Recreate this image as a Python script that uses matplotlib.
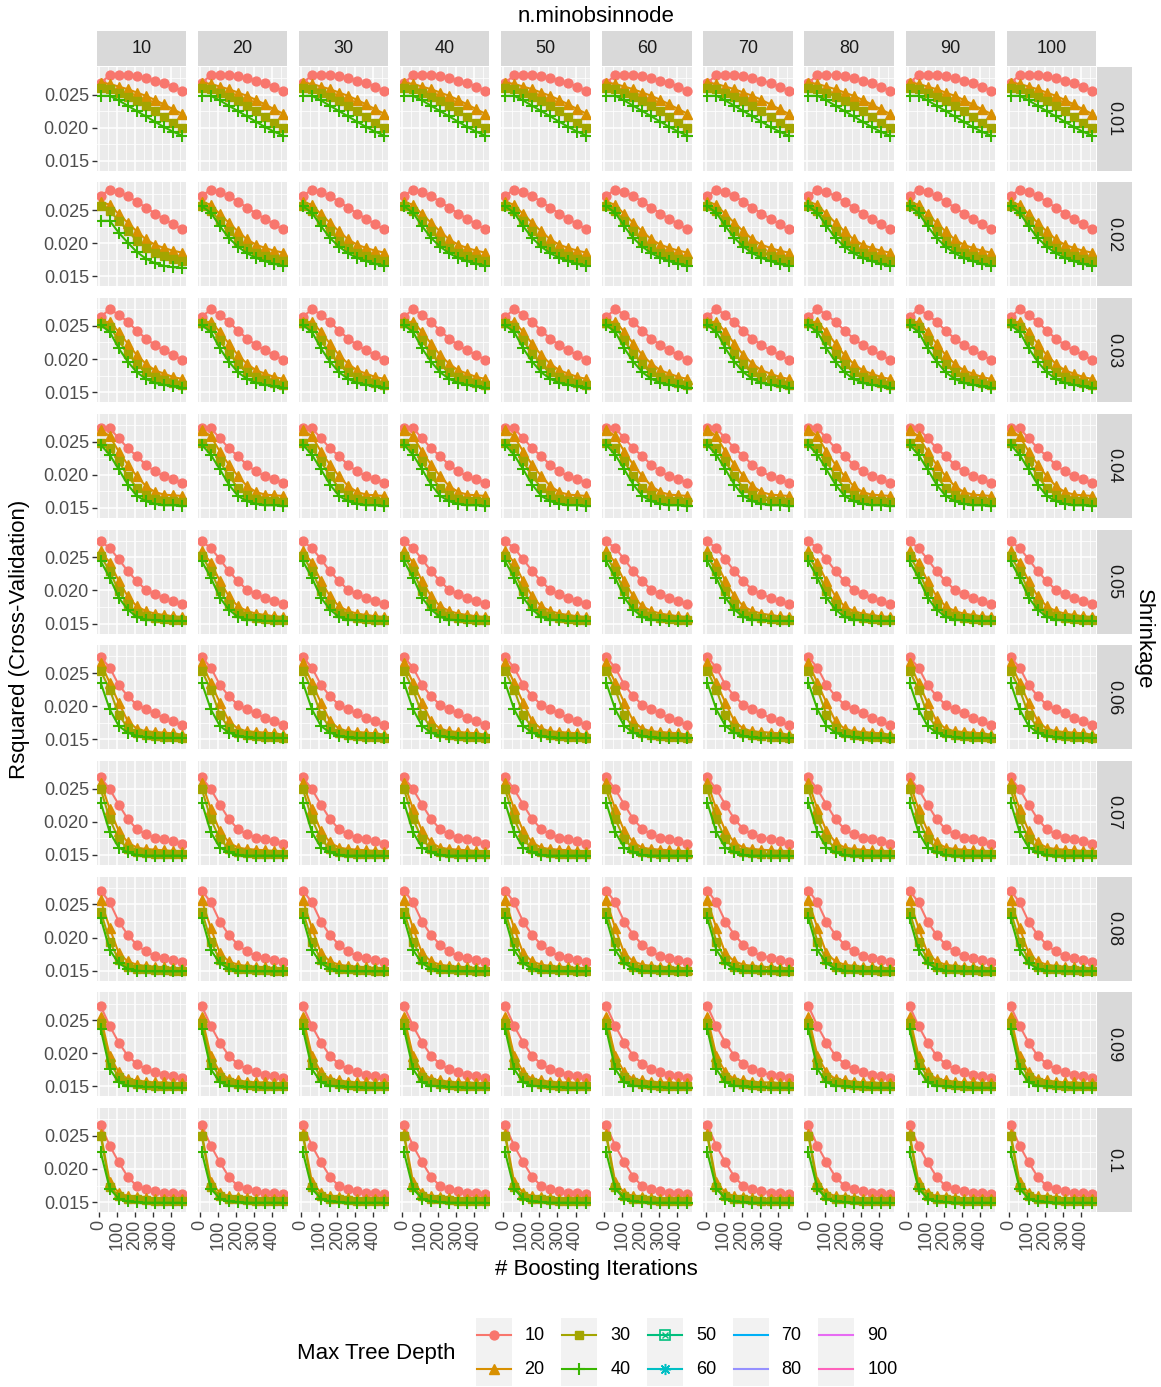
import matplotlib
matplotlib.use("Agg")
import matplotlib.pyplot as plt
from matplotlib.patches import Rectangle
from matplotlib.ticker import FormatStrFormatter

plt.rcParams['font.family'] = ['Liberation Sans', 'DejaVu Sans']

# ---- tuning grid -------------------------------------------------------
shrinkage = ["0.01", "0.02", "0.03", "0.04", "0.05", "0.06", "0.07", "0.08", "0.09", "0.1"]
n_minobsinnode = [10, 20, 30, 40, 50, 60, 70, 80, 90, 100]
max_depth = [10, 20, 30, 40, 50, 60, 70, 80, 90, 100]
boosting_iters = [10, 60, 110, 160, 210, 260, 310, 360, 410, 460]

# Cross-validated R^2, one list per shrinkage value (rows), per tree depth
rsq_depth10 = [
    [0.0268, 0.0279, 0.0280, 0.0280, 0.0278, 0.0275, 0.0271, 0.0267, 0.0262, 0.0256],
    [0.0272, 0.0281, 0.0278, 0.0271, 0.0263, 0.0254, 0.0245, 0.0237, 0.0229, 0.0221],
    [0.0264, 0.0275, 0.0267, 0.0256, 0.0243, 0.0231, 0.0221, 0.0213, 0.0206, 0.0199],
    [0.0270, 0.0270, 0.0255, 0.0240, 0.0228, 0.0215, 0.0205, 0.0198, 0.0193, 0.0188],
    [0.0274, 0.0264, 0.0247, 0.0229, 0.0214, 0.0201, 0.0194, 0.0189, 0.0184, 0.0179],
    [0.0274, 0.0258, 0.0232, 0.0215, 0.0202, 0.0195, 0.0189, 0.0182, 0.0177, 0.0171],
    [0.0267, 0.0249, 0.0226, 0.0204, 0.0189, 0.0181, 0.0176, 0.0174, 0.0171, 0.0166],
    [0.0271, 0.0253, 0.0224, 0.0204, 0.0189, 0.0179, 0.0172, 0.0169, 0.0166, 0.0163],
    [0.0271, 0.0241, 0.0216, 0.0196, 0.0184, 0.0176, 0.0171, 0.0167, 0.0165, 0.0162],
    [0.0266, 0.0235, 0.0210, 0.0188, 0.0174, 0.0169, 0.0166, 0.0164, 0.0163, 0.0162],
]
rsq_depth20 = [
    [0.0268, 0.0266, 0.0262, 0.0258, 0.0253, 0.0248, 0.0242, 0.0235, 0.0228, 0.0221],
    [0.0263, 0.0258, 0.0244, 0.0231, 0.0218, 0.0206, 0.0198, 0.0193, 0.0189, 0.0186],
    [0.0256, 0.0256, 0.0241, 0.0223, 0.0206, 0.0193, 0.0183, 0.0178, 0.0173, 0.0170],
    [0.0268, 0.0258, 0.0235, 0.0215, 0.0198, 0.0183, 0.0174, 0.0170, 0.0169, 0.0168],
    [0.0259, 0.0242, 0.0214, 0.0191, 0.0176, 0.0169, 0.0165, 0.0163, 0.0161, 0.0160],
    [0.0265, 0.0235, 0.0205, 0.0177, 0.0166, 0.0162, 0.0161, 0.0160, 0.0159, 0.0157],
    [0.0259, 0.0219, 0.0186, 0.0169, 0.0161, 0.0159, 0.0158, 0.0157, 0.0156, 0.0155],
    [0.0256, 0.0214, 0.0176, 0.0164, 0.0159, 0.0157, 0.0156, 0.0155, 0.0154, 0.0153],
    [0.0254, 0.0196, 0.0171, 0.0161, 0.0159, 0.0157, 0.0156, 0.0156, 0.0155, 0.0155],
    [0.0253, 0.0180, 0.0164, 0.0159, 0.0157, 0.0156, 0.0155, 0.0155, 0.0154, 0.0154],
]
rsq_depth30 = [
    [0.0260, 0.0259, 0.0253, 0.0247, 0.0240, 0.0233, 0.0225, 0.0216, 0.0207, 0.0199],
    [0.0257, 0.0249, 0.0234, 0.0219, 0.0204, 0.0193, 0.0186, 0.0181, 0.0177, 0.0174],
    [0.0254, 0.0249, 0.0228, 0.0208, 0.0193, 0.0180, 0.0173, 0.0168, 0.0164, 0.0161],
    [0.0248, 0.0240, 0.0220, 0.0198, 0.0180, 0.0170, 0.0164, 0.0161, 0.0160, 0.0159],
    [0.0252, 0.0229, 0.0199, 0.0179, 0.0166, 0.0161, 0.0159, 0.0157, 0.0156, 0.0156],
    [0.0253, 0.0225, 0.0187, 0.0167, 0.0160, 0.0156, 0.0155, 0.0154, 0.0153, 0.0152],
    [0.0249, 0.0204, 0.0174, 0.0159, 0.0155, 0.0153, 0.0152, 0.0152, 0.0151, 0.0151],
    [0.0239, 0.0194, 0.0166, 0.0156, 0.0153, 0.0152, 0.0151, 0.0151, 0.0150, 0.0150],
    [0.0246, 0.0186, 0.0164, 0.0156, 0.0154, 0.0152, 0.0151, 0.0151, 0.0151, 0.0150],
    [0.0250, 0.0173, 0.0159, 0.0155, 0.0154, 0.0153, 0.0152, 0.0152, 0.0152, 0.0152],
]
rsq_depth40 = [
    [0.0248, 0.0248, 0.0241, 0.0233, 0.0225, 0.0217, 0.0209, 0.0201, 0.0194, 0.0188],
    [0.0256, 0.0246, 0.0226, 0.0208, 0.0195, 0.0185, 0.0178, 0.0173, 0.0169, 0.0166],
    [0.0251, 0.0241, 0.0216, 0.0196, 0.0180, 0.0170, 0.0164, 0.0161, 0.0159, 0.0157],
    [0.0245, 0.0230, 0.0208, 0.0185, 0.0168, 0.0160, 0.0156, 0.0154, 0.0154, 0.0153],
    [0.0244, 0.0219, 0.0189, 0.0171, 0.0160, 0.0156, 0.0155, 0.0154, 0.0154, 0.0154],
    [0.0235, 0.0195, 0.0170, 0.0160, 0.0155, 0.0153, 0.0152, 0.0152, 0.0152, 0.0152],
    [0.0229, 0.0184, 0.0161, 0.0154, 0.0150, 0.0149, 0.0149, 0.0149, 0.0149, 0.0149],
    [0.0229, 0.0181, 0.0161, 0.0153, 0.0150, 0.0149, 0.0149, 0.0149, 0.0149, 0.0149],
    [0.0236, 0.0176, 0.0156, 0.0151, 0.0150, 0.0149, 0.0149, 0.0148, 0.0148, 0.0148],
    [0.0225, 0.0170, 0.0155, 0.0151, 0.0150, 0.0149, 0.0149, 0.0149, 0.0149, 0.0149],
]
# depth 40, shrinkage 0.02, n.minobsinnode 10 runs lower than its neighbours
rsq_depth40_shr002_node10 = [0.0234, 0.0234, 0.0216, 0.0201, 0.0187, 0.0177, 0.0170, 0.0166, 0.0164, 0.0163]

series = {10: rsq_depth10, 20: rsq_depth20, 30: rsq_depth30, 40: rsq_depth40}

# ---- styling ------------------------------------------------------------
hue = ['#F8766D', '#D89000', '#A3A500', '#39B600', '#00BF7D',
       '#00BFC4', '#00B0F6', '#9590FF', '#E76BF3', '#FF62BC']
marker_style = {
    10: dict(marker='o', ms=6.4),
    20: dict(marker='^', ms=7.0),
    30: dict(marker='s', ms=5.8),
    40: dict(marker='+', ms=8.5, mew=1.5),
}

W, H = 1161, 1387
fig = plt.figure(figsize=(W / 100, H / 100), dpi=100)

PX0, PY0 = 96.7, 66.7     # top-left of first panel (px)
PW, PH = 89.3, 104.0      # panel size (px)
DX, DY = 101.1, 115.7     # panel pitch (px)
STRIP = 34.5


def frac_box(x, y, w, h):
    return [x / W, 1 - (y + h) / H, w / W, h / H]


nrow, ncol = len(shrinkage), len(n_minobsinnode)
for i, shr in enumerate(shrinkage):
    for j, node in enumerate(n_minobsinnode):
        x0 = PX0 + j * DX
        y0 = PY0 + i * DY
        ax = fig.add_axes(frac_box(x0, y0, PW, PH))
        ax.set_facecolor('#EBEBEB')
        for sp in ax.spines.values():
            sp.set_visible(False)
        ax.set_xlim(-12.5, 482.5)
        ax.set_ylim(0.0135, 0.0292)
        ax.set_xticks([0, 100, 200, 300, 400])
        ax.set_xticks([50, 150, 250, 350, 450], minor=True)
        ax.set_yticks([0.015, 0.020, 0.025])
        ax.set_yticks([0.0175, 0.0225, 0.0275], minor=True)
        ax.yaxis.set_major_formatter(FormatStrFormatter('%.3f'))
        ax.grid(which='major', color='white', lw=1.1)
        ax.grid(which='minor', color='white', lw=0.55)
        ax.set_axisbelow(True)
        ax.tick_params(which='minor', length=0, labelbottom=False, labelleft=False)
        ax.tick_params(which='major', length=3.6, width=1.0, color='#333333',
                       labelsize=13, labelcolor='#4D4D4D', pad=2)
        if j != 0:
            ax.tick_params(axis='y', which='major', length=0, labelleft=False)
        if i != nrow - 1:
            ax.tick_params(axis='x', which='major', length=0, labelbottom=False)
        else:
            for lab in ax.get_xticklabels():
                lab.set_rotation(90)

        for k, (depth, table) in enumerate(series.items()):
            vals = table[i]
            if depth == 40 and i == 1 and j == 0:
                vals = rsq_depth40_shr002_node10
            ax.plot(boosting_iters, vals, color=hue[k], lw=1.5,
                    **marker_style[depth], zorder=3 + k)

        # column strips
        if i == 0:
            sax = fig.add_axes(frac_box(x0, y0 - STRIP - 0.8, PW, STRIP))
            sax.set_facecolor('#D9D9D9')
            sax.set_xticks([]); sax.set_yticks([])
            for sp in sax.spines.values():
                sp.set_visible(False)
            sax.text(0.5, 0.5, str(node), ha='center', va='center',
                     fontsize=13, color='#1A1A1A', transform=sax.transAxes)
        # row strips
        if j == ncol - 1:
            sax = fig.add_axes(frac_box(x0 + PW + 0.8, y0, STRIP + 0.6, PH))
            sax.set_facecolor('#D9D9D9')
            sax.set_xticks([]); sax.set_yticks([])
            for sp in sax.spines.values():
                sp.set_visible(False)
            sax.text(0.5, 0.5, shr, ha='center', va='center', rotation=-90,
                     fontsize=13, color='#1A1A1A', transform=sax.transAxes)

# ---- titles -------------------------------------------------------------
xc = (PX0 + PX0 + (ncol - 1) * DX + PW) / 2
yc = (PY0 + PY0 + (nrow - 1) * DY + PH) / 2
fig.text(xc / W, 1 - 17 / H, "n.minobsinnode", ha='center', va='center', fontsize=16)
fig.text(xc / W, 1 - 1270 / H, "# Boosting Iterations", ha='center', va='center', fontsize=16)
fig.text(20 / W, 1 - yc / H, "Rsquared (Cross-Validation)", ha='center', va='center',
         rotation=90, fontsize=16)
fig.text(1143 / W, 1 - yc / H, "Shrinkage", ha='center', va='center',
         rotation=-90, fontsize=16)

# ---- legend -------------------------------------------------------------
leg = fig.add_axes([0, 0, 1, 1], facecolor='none')
leg.set_xlim(0, W)
leg.set_ylim(H, 0)
leg.axis('off')
fig.text(297 / W, 1 - 1353 / H, "Max Tree Depth", ha='left', va='center', fontsize=16)

key_w, key_h = 36, 34
key_x0, key_dx = 493.5, 85.7
key_y = [1335, 1369]
extra_markers = {
    50: [dict(marker='s', ms=6.5, mfc='none', mew=1.2), dict(marker='x', ms=5.0, mew=1.0)],
    60: [dict(marker=(8, 2, 0), ms=8.0, mew=1.1)],
}
for k, depth in enumerate(max_depth):
    cx = key_x0 + (k // 2) * key_dx
    cy = key_y[k % 2]
    leg.add_patch(Rectangle((cx - key_w / 2, cy - key_h / 2), key_w, key_h,
                            facecolor='#F2F2F2', edgecolor='none'))
    leg.plot([cx - key_w / 2 + 1, cx + key_w / 2 - 1], [cy, cy], color=hue[k], lw=1.5)
    if depth in marker_style:
        leg.plot([cx], [cy], color=hue[k], **marker_style[depth])
    for m in extra_markers.get(depth, []):
        leg.plot([cx], [cy], color=hue[k], **m)
    leg.text(cx + key_w / 2 + 13, cy, str(depth), ha='left', va='center',
             fontsize=13, color='black')

fig.savefig("out.png", dpi=100)
